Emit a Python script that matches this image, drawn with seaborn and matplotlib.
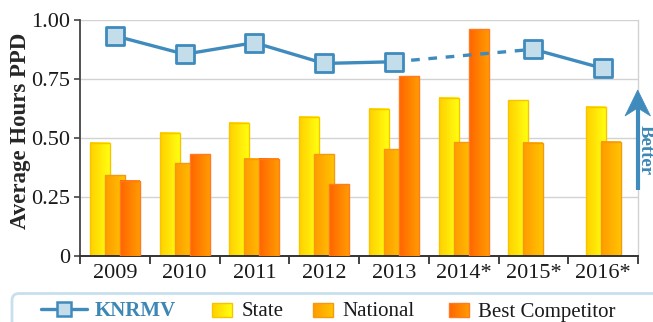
import numpy as np
import matplotlib
matplotlib.use("Agg")
import matplotlib.pyplot as plt
from matplotlib.colors import LinearSegmentedColormap
from matplotlib.patches import FancyBboxPatch, Polygon
import seaborn as sns

# ---- data -------------------------------------------------------------
years = ["2009", "2010", "2011", "2012", "2013", "2014*", "2015*", "2016*"]
knrmv = [0.933, 0.855, 0.904, 0.816, 0.823, np.nan, 0.876, 0.795]
state = [0.48, 0.522, 0.564, 0.59, 0.623, 0.671, 0.661, 0.633]
national = [0.342, 0.393, 0.412, 0.431, 0.453, 0.482, 0.48, 0.484]
best_competitor = [0.319, 0.431, 0.412, 0.304, 0.761, 0.96, 0.0, np.nan]

series = [
    ("State", state, "#ffcf00", "#ffff10", "#f8c400"),
    ("National", national, "#ff9a00", "#ffc400", "#f59a10"),
    ("Best Competitor", best_competitor, "#ff6400", "#ff9c00", "#ff7a20"),
]

LINE_C = "#3f8bbd"
FACE_C = "#c3ddeb"
TEXT_BLUE = "#3d87b5"

sns.set_theme(style="white")
plt.rcParams["font.family"] = ["Liberation Serif", "DejaVu Serif"]
plt.rcParams["text.color"] = "#1a1a1a"

fig = plt.figure(figsize=(6.53, 3.22), dpi=100)
ax = fig.add_axes([80 / 653, 66 / 322, 558 / 653, 236 / 322])

# ---- gradient bars ----------------------------------------------------
BAR_W = 0.285
STEP = 0.215
grad = np.linspace(0, 1, 64)[None, :]

for i in range(len(years)):
    present = [k for k, s in enumerate(series) if not np.isnan(s[1][i])]
    n = len(present)
    for slot, k in enumerate(present):
        name, vals, c0, c1, edge = series[k]
        v = vals[i]
        if v <= 0:
            continue
        x = i + (slot - (n - 1) / 2) * STEP
        cmap = LinearSegmentedColormap.from_list(name, [c0, c1])
        z = 2 + k * 0.3
        ax.imshow(grad, extent=(x - BAR_W / 2, x + BAR_W / 2, 0, v),
                  aspect="auto", cmap=cmap, zorder=z, interpolation="bilinear")
        ax.bar(x, v, BAR_W, facecolor="none", edgecolor=edge, linewidth=1.0,
               zorder=z + 0.1)

# ---- KNRMV line -------------------------------------------------------
xs = np.arange(len(years))
ky = np.array(knrmv, dtype=float)
ax.plot(xs, ky, color=LINE_C, lw=2.4, zorder=5, solid_capstyle="round")
for i in np.where(np.isnan(ky))[0]:
    ax.plot([i - 1, i + 1], [ky[i - 1], ky[i + 1]], color=LINE_C, lw=2.4,
            ls=(0, (2.6, 2.6)), zorder=5)
sns.scatterplot(x=xs, y=ky, marker="s", s=150, color=FACE_C,
                edgecolor=LINE_C, linewidth=2.0, zorder=6, ax=ax, legend=False)

# ---- axes styling -----------------------------------------------------
ax.set_xlim(-0.5, len(years) - 0.5)
ax.set_ylim(0, 1.0)
ax.set_yticks([0, 0.25, 0.5, 0.75, 1.0])
ax.set_yticklabels(["0", "0.25", "0.50", "0.75", "1.00"])
ax.set_xticks(xs)
ax.set_xticklabels(years)
ax.set_xticks(np.arange(-0.5, len(years)), minor=True)
ax.tick_params(axis="x", which="major", length=0, pad=6, labelsize=16,
               labelcolor="#1a1a1a")
ax.tick_params(axis="x", which="minor", length=6, width=1.2, color="#222222",
               direction="out", bottom=True)
ax.tick_params(axis="y", length=4, width=1.2, color="#444444", pad=3,
               labelsize=16, labelcolor="#1a1a1a", left=True)
ax.grid(axis="y", color="#d2d2d2", lw=1.0, zorder=0)
ax.set_axisbelow(True)
ax.spines["top"].set_visible(False)
ax.spines["right"].set_color("#d2d2d2")
ax.spines["right"].set_linewidth(1.0)
ax.spines["left"].set_color("#444444")
ax.spines["left"].set_linewidth(1.3)
ax.spines["bottom"].set_color("#333333")
ax.spines["bottom"].set_linewidth(1.4)
ax.set_ylabel("Average Hours PPD", fontsize=16.5, fontweight="bold")
ax.yaxis.set_label_coords(-0.088, 0.53)

# ---- overlay in pixel units: legend box and "Better" arrow -------------
lax = fig.add_axes([0, 0, 1, 1])
lax.set_xlim(0, 653)
lax.set_ylim(322, 0)
lax.axis("off")

lax.add_patch(FancyBboxPatch((12, 293.5), 700, 60,
                             boxstyle="round,pad=0,rounding_size=7",
                             facecolor="none", edgecolor="#c8dfee", lw=2.0))

ly = 309
lax.plot([41, 87], [ly, ly], color=LINE_C, lw=2.4)
lax.plot([64], [ly], marker="s", ms=10, mfc=FACE_C, mec=LINE_C, mew=1.8)
lax.text(95, 316.5, "KNRMV", fontsize=15, fontweight="bold", color=TEXT_BLUE,
         va="baseline", ha="left")

legend_pos = [(211.7, 241.7), (313.3, 342.3), (449.3, 478.3)]
for (name, _, c0, c1, edge), (px, tx) in zip(series, legend_pos):
    cmap = LinearSegmentedColormap.from_list(name, [c0, c1])
    lax.imshow(grad, extent=(px, px + 20, 316.7, 302.7), aspect="auto",
               cmap=cmap, interpolation="bilinear")
    lax.add_patch(plt.Rectangle((px, 302.7), 20, 14, facecolor="none",
                                edgecolor=edge, lw=1.0))
    lax.text(tx, 316.5, name, fontsize=15, va="baseline", ha="left")

ax_x = 637.7
lax.plot([ax_x, ax_x], [190, 108], color=LINE_C, lw=3.0, solid_capstyle="butt")
lax.add_patch(Polygon([(ax_x, 90), (650.5, 116), (ax_x, 108), (625, 116)],
                      closed=True, facecolor=LINE_C, edgecolor=LINE_C, lw=0.5))
lax.text(645.5, 150, "Better", rotation=-90, fontsize=13.5, fontweight="bold",
         color=TEXT_BLUE, ha="center", va="center")
lax.set_xlim(0, 653)
lax.set_ylim(322, 0)

fig.savefig("out.png", dpi=100)
